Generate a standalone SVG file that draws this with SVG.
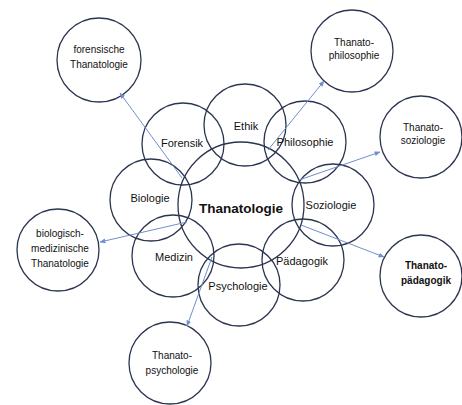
<svg xmlns="http://www.w3.org/2000/svg" width="462" height="405" viewBox="0 0 462 405">
  <style>
    .ring { fill: none; stroke: #2c3550; stroke-width: 1.3; }
    .lbl { font-family: "Liberation Sans", Arial, sans-serif; font-size: 11px; fill: #111; text-anchor: middle; }
    .out { font-family: "Liberation Sans", Arial, sans-serif; font-size: 10px; fill: #111; text-anchor: middle; }
    .bold { font-weight: bold; }
    .core { font-family: "Liberation Sans", Arial, sans-serif; font-size: 13.5px; font-weight: bold; fill: #111; text-anchor: middle; }
    .link { stroke: #6f8fcc; stroke-width: 1; fill: none; marker-end: url(#tip); }
  </style>
  <defs>
    <marker id="tip" viewBox="0 0 10 10" refX="9" refY="5" markerWidth="6" markerHeight="6" markerUnits="userSpaceOnUse" orient="auto">
      <path d="M0,1 L10,5 L0,9 Z" fill="#6f8fcc"/>
    </marker>
  </defs>

  <rect width="462" height="405" fill="#ffffff"/>

  <!-- disciplines around the centre -->
  <g id="ethik"><circle class="ring" cx="245" cy="125" r="41"/><text class="lbl" x="246" y="130">Ethik</text></g>
  <g id="forensik"><circle class="ring" cx="183" cy="144" r="41"/><text class="lbl" x="182" y="147">Forensik</text></g>
  <g id="philosophie"><circle class="ring" cx="305" cy="142" r="41"/><text class="lbl" x="305" y="146">Philosophie</text></g>
  <g id="biologie"><circle class="ring" cx="151" cy="200" r="41"/><text class="lbl" x="150" y="202">Biologie</text></g>
  <g id="soziologie"><circle class="ring" cx="333" cy="205" r="41"/><text class="lbl" x="331" y="209">Soziologie</text></g>
  <g id="medizin"><circle class="ring" cx="173" cy="256" r="41"/><text class="lbl" x="174" y="261">Medizin</text></g>
  <g id="psychologie"><circle class="ring" cx="239" cy="285" r="41"/><text class="lbl" x="238" y="290">Psychologie</text></g>
  <g id="paedagogik"><circle class="ring" cx="303" cy="260" r="41"/><text class="lbl" x="302" y="265">Pädagogik</text></g>

  <!-- centre -->
  <g id="thanatologie"><circle class="ring" cx="241" cy="205" r="63"/><text class="core" x="241" y="213">Thanatologie</text></g>

  <!-- derived fields -->
  <g id="forensische-thanatologie"><circle class="ring" cx="99" cy="60" r="42"/>
    <text class="out" x="99" y="53">forensische</text><text class="out" x="99" y="68">Thanatologie</text></g>
  <g id="thanatophilosophie"><circle class="ring" cx="352" cy="51" r="41"/>
    <text class="out" x="354" y="46">Thanato-</text><text class="out" x="354" y="59">philosophie</text></g>
  <g id="thanatosoziologie"><circle class="ring" cx="421" cy="137" r="41"/>
    <text class="out" x="423" y="131">Thanato-</text><text class="out" x="423" y="144">soziologie</text></g>
  <g id="bio-med-thanatologie"><circle class="ring" cx="58" cy="250" r="41"/>
    <text class="out" x="60" y="237">biologisch-</text><text class="out" x="60" y="252">medizinische</text><text class="out" x="60" y="267">Thanatologie</text></g>
  <g id="thanatopsychologie"><circle class="ring" cx="170" cy="363" r="41"/>
    <text class="out" x="172" y="359">Thanato-</text><text class="out" x="172" y="374">psychologie</text></g>
  <g id="thanatopaedagogik"><circle class="ring" cx="421" cy="276" r="41"/>
    <text class="out bold" x="426" y="269">Thanato-</text><text class="out bold" x="426" y="284">pädagogik</text></g>

  <!-- connectors -->
  <g id="connectors">
    <line class="link" x1="182" y1="178" x2="120" y2="93"/>
    <line class="link" x1="268" y1="150" x2="324" y2="81"/>
    <line class="link" x1="299" y1="180" x2="380" y2="152"/>
    <line class="link" x1="187" y1="222" x2="100" y2="242"/>
    <line class="link" x1="212" y1="257" x2="187" y2="326"/>
    <line class="link" x1="301" y1="225" x2="384" y2="257"/>
  </g>
</svg>
